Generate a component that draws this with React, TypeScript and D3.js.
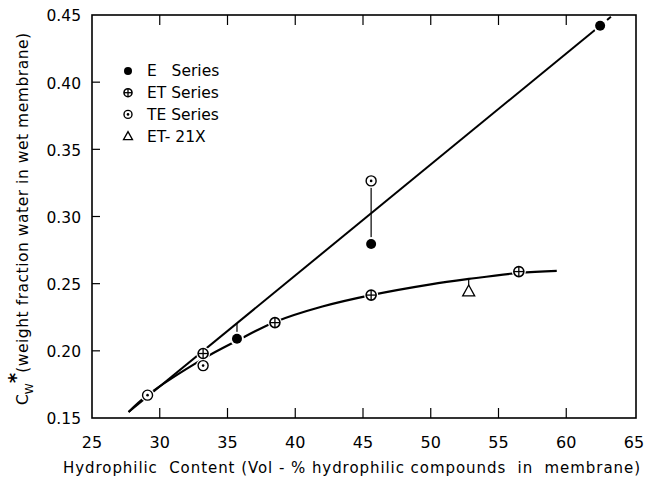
import React from 'react';
import * as d3 from 'd3';

// values
const xTicks = [25, 30, 35, 40, 45, 50, 55, 60, 65];
const yTicks = [0.15, 0.2, 0.25, 0.3, 0.35, 0.4, 0.45];

const eSeries = [
  { x: 35.7, y: 0.209 },
  { x: 45.6, y: 0.2795 },
  { x: 62.5, y: 0.442 },
];
const etSeries = [
  { x: 33.2, y: 0.198 },
  { x: 38.5, y: 0.221 },
  { x: 45.6, y: 0.2415 },
  { x: 56.5, y: 0.259 },
];
const teSeries = [
  { x: 29.1, y: 0.167 },
  { x: 33.2, y: 0.189 },
  { x: 45.6, y: 0.3265 },
];
const et21xSeries = [{ x: 52.8, y: 0.2445 }];

// hand-drawn straight line and curve
const fitLine = [
  { x: 27.7, y: 0.1545 },
  { x: 62.5, y: 0.442 },
];
const fitLineExt = [
  { x: 62.5, y: 0.442 },
  { x: 63.4, y: 0.4495 },
];
const fitCurve = [
  { x: 27.7, y: 0.1545 },
  { x: 29.1, y: 0.167 },
  { x: 33.2, y: 0.194 },
  { x: 35.7, y: 0.2075 },
  { x: 38.5, y: 0.2215 },
  { x: 42, y: 0.233 },
  { x: 45.6, y: 0.2415 },
  { x: 50, y: 0.2495 },
  { x: 52.8, y: 0.2535 },
  { x: 56.5, y: 0.258 },
  { x: 59.3, y: 0.2595 },
];
const connectors = [
  { x: 45.6, y0: 0.2795, y1: 0.3265 },
  { x: 35.7, y0: 0.209, y1: 0.2205 },
  { x: 52.8, y0: 0.2445, y1: 0.2535 },
];

const legendItems = [
  { kind: 'E', label: 'E   Series' },
  { kind: 'ET', label: 'ET Series' },
  { kind: 'TE', label: 'TE Series' },
  { kind: 'TRI', label: 'ET- 21X' },
];

const W = 648;
const H = 486;
const left = 92, right = 636, top = 15, bottom = 418;
const FONT = "'DejaVu Sans', 'Lato', sans-serif";

function Marker({ kind, cx, cy, r = 5 }: { kind: string; cx: number; cy: number; r?: number }) {
  if (kind === 'E') return <circle cx={cx} cy={cy} r={r} fill="#000" />;
  if (kind === 'ET')
    return (
      <g>
        <circle cx={cx} cy={cy} r={r} fill="#fff" stroke="#000" strokeWidth={1.6} />
        <line x1={cx - r} x2={cx + r} y1={cy} y2={cy} stroke="#000" strokeWidth={1.3} />
        <line x1={cx} x2={cx} y1={cy - r} y2={cy + r} stroke="#000" strokeWidth={1.3} />
      </g>
    );
  if (kind === 'TE')
    return (
      <g>
        <circle cx={cx} cy={cy} r={r} fill="#fff" stroke="#000" strokeWidth={1.4} />
        <circle cx={cx} cy={cy} r={1.3} fill="#000" />
      </g>
    );
  const s = r + 1;
  return (
    <path
      d={`M${cx},${cy - s} L${cx + s},${cy + s * 0.8} L${cx - s},${cy + s * 0.8} Z`}
      fill="#fff"
      stroke="#000"
      strokeWidth={1.3}
    />
  );
}

export default function App() {
  const x = d3.scaleLinear().domain([25, 65]).range([left, right - 2]);
  const y = d3.scaleLinear().domain([0.15, 0.45]).range([bottom, top]);

  const line = d3
    .line<{ x: number; y: number }>()
    .x((d) => x(d.x))
    .y((d) => y(d.y));
  const curve = d3
    .line<{ x: number; y: number }>()
    .x((d) => x(d.x))
    .y((d) => y(d.y))
    .curve(d3.curveCatmullRom);

  const allMarkers = [
    ...eSeries.map((d) => ({ ...d, kind: 'E' })),
    ...etSeries.map((d) => ({ ...d, kind: 'ET' })),
    ...teSeries.map((d) => ({ ...d, kind: 'TE' })),
    ...et21xSeries.map((d) => ({ ...d, kind: 'TRI' })),
  ];

  return (
    <div style={{ position: 'absolute', left: 0, top: 0 }}>
      <svg width={W} height={H} style={{ display: 'block', background: '#fff' }} fontFamily={FONT}>
        {/* frame */}
        <rect x={left} y={top} width={right - left} height={bottom - top} fill="none" stroke="#000" strokeWidth={1.6} />

        {/* x ticks (bottom and top, inward) */}
        {xTicks.slice(1, -1).map((t) => (
          <g key={'xt' + t}>
            <line x1={x(t)} x2={x(t)} y1={bottom} y2={bottom - 10} stroke="#000" strokeWidth={1.2} />
            <line x1={x(t)} x2={x(t)} y1={top} y2={top + 10} stroke="#000" strokeWidth={1.2} />
          </g>
        ))}
        {xTicks.map((t) => (
          <text key={'xl' + t} x={x(t)} y={bottom + 30} textAnchor="middle" fontSize={16}>
            {t}
          </text>
        ))}

        {/* y ticks */}
        {yTicks.slice(1, -1).map((t) => (
          <line key={'yt' + t} x1={left} x2={left + 8} y1={y(t)} y2={y(t)} stroke="#000" strokeWidth={1.2} />
        ))}
        {yTicks.map((t) => (
          <text key={'yl' + t} x={left - 11} y={y(t) + 1} dy="0.35em" textAnchor="end" fontSize={15.5}>
            {t.toFixed(2)}
          </text>
        ))}

        {/* fitted lines */}
        <path d={line(fitLine) || ''} fill="none" stroke="#000" strokeWidth={2} />
        <path d={line(fitLineExt) || ''} fill="none" stroke="#000" strokeWidth={2} strokeDasharray="5,4" />
        <path d={curve(fitCurve) || ''} fill="none" stroke="#000" strokeWidth={2.2} />

        {/* vertical connectors */}
        {connectors.map((c, i) => (
          <line key={'c' + i} x1={x(c.x)} x2={x(c.x)} y1={y(c.y0)} y2={y(c.y1)} stroke="#000" strokeWidth={1.2} />
        ))}

        {/* white halos so lines break around markers */}
        {allMarkers.map((m, i) => (
          <circle key={'h' + i} cx={x(m.x)} cy={y(m.y)} r={m.kind === 'TRI' ? 0 : 7} fill="#fff" />
        ))}
        {allMarkers.map((m, i) => (
          <Marker key={'m' + i} kind={m.kind} cx={x(m.x)} cy={y(m.y)} />
        ))}

        {/* legend */}
        {legendItems.map((it, i) => {
          const ly = 71 + i * 21.7;
          return (
            <g key={'lg' + i}>
              <Marker kind={it.kind} cx={128} cy={ly} r={it.kind === 'TRI' ? 3.5 : 4} />
              <text x={147} y={ly} dy="0.35em" fontSize={15.5} style={{ whiteSpace: 'pre' }}>
                {it.label}
              </text>
            </g>
          );
        })}

        {/* axis titles */}
        <text
          x={63}
          y={473}
          fontSize={15}
          textLength={577}
          lengthAdjust="spacing"
          style={{ whiteSpace: 'pre' }}
        >
          {'Hydrophilic  Content (Vol - % hydrophilic compounds  in  membrane)'}
        </text>
        <text transform="translate(28,405) rotate(-90)" fontSize={15.5}>
          <tspan>C</tspan>
          <tspan fontSize={11} dy={5}>W</tspan>
          <tspan fontSize={20} dy={-11} fontWeight="bold">*</tspan>
          <tspan dy={6} textLength={340} lengthAdjust="spacing">(weight fraction water in wet membrane)</tspan>
        </text>
      </svg>
    </div>
  );
}
